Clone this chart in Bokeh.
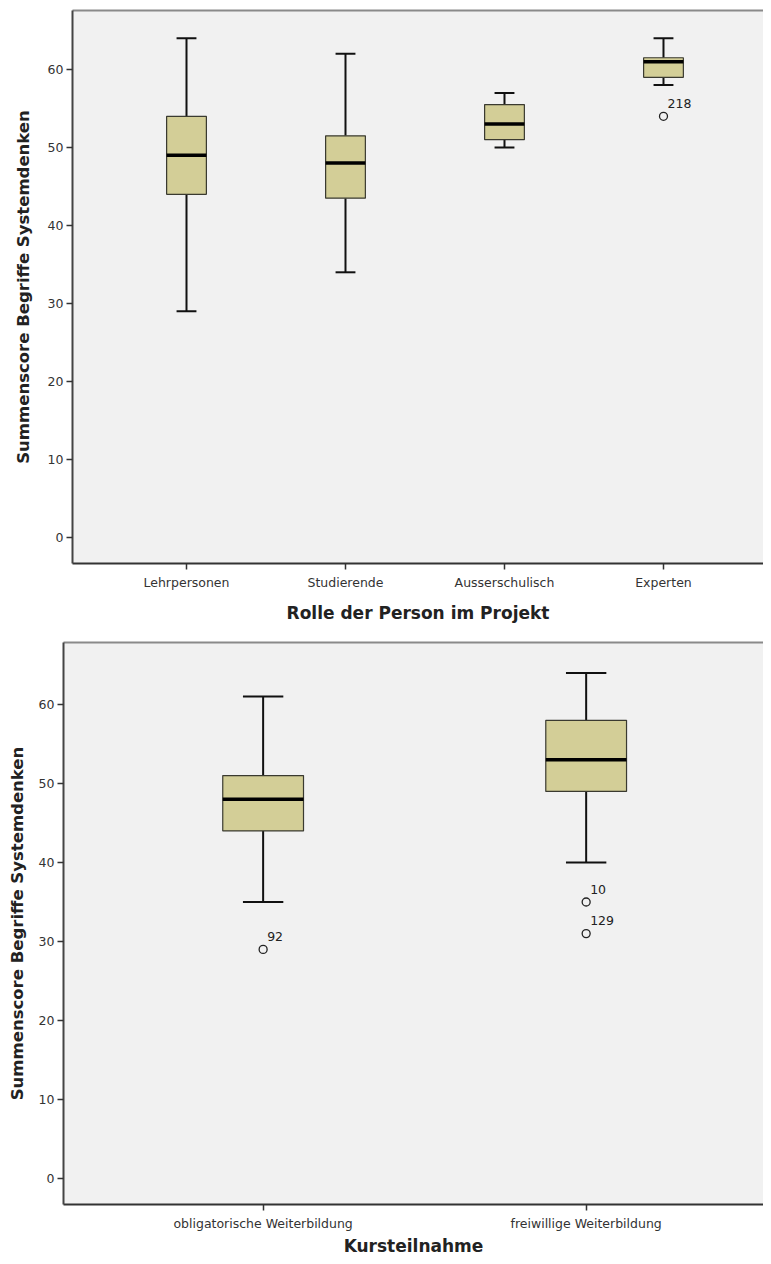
from bokeh.plotting import figure
from bokeh.models import Range1d, FixedTicker, LinearAxis
from bokeh.layouts import column
from bokeh.embed import file_html
from bokeh.resources import INLINE
from bokeh.core.properties import value

# ---- data: chart 1 (Rolle der Person im Projekt) ----
roles = ["Lehrpersonen", "Studierende", "Ausserschulisch", "Experten"]
role_low = [29, 34, 50, 58]
role_q1 = [44, 43.5, 51, 59]
role_median = [49, 48, 53, 61]
role_q3 = [54, 51.5, 55.5, 61.5]
role_high = [64, 62, 57, 64]
role_outlier_group = ["Experten"]
role_outlier_value = [54]
role_outlier_label = ["218"]

# ---- data: chart 2 (Kursteilnahme) ----
courses = ["obligatorische Weiterbildung", "freiwillige Weiterbildung"]
course_low = [35, 40]
course_q1 = [44, 49]
course_median = [48, 53]
course_q3 = [51, 58]
course_high = [61, 64]
course_outlier_group = ["obligatorische Weiterbildung", "freiwillige Weiterbildung", "freiwillige Weiterbildung"]
course_outlier_value = [29, 35, 31]
course_outlier_label = ["92", "10", "129"]

y_ticks = [0, 10, 20, 30, 40, 50, 60]
y_title = "Summenscore Begriffe Systemdenken"

FONT = "DejaVu Sans"
BOX_FILL = "#D3CE97"
BG = "#F1F1F1"


def make_box(cats, low, q1, med, q3, high, og, ov, ol, x_title, x_range, y_range,
             width, height, mbl, mbt, mbb, ystand, xstand):
    p = figure(width=width, height=height, output_backend="svg", toolbar_location=None,
               x_range=Range1d(*x_range), y_range=Range1d(*y_range),
               min_border_left=mbl, min_border_right=0, min_border_top=mbt,
               min_border_bottom=mbb)
    p.frame_align = False
    p.background_fill_color = BG
    p.border_fill_color = "white"
    p.outline_line_color = None
    p.grid.visible = False

    pos = [i + 1 for i in range(len(cats))]
    bw = 0.25
    cw = bw / 2

    # whiskers
    p.segment(x0=pos, y0=q3, x1=pos, y1=high, line_color="#111111", line_width=2)
    p.segment(x0=pos, y0=q1, x1=pos, y1=low, line_color="#111111", line_width=2)
    # caps
    p.segment(x0=[x - cw / 2 for x in pos], y0=high, x1=[x + cw / 2 for x in pos], y1=high,
              line_color="#111111", line_width=2)
    p.segment(x0=[x - cw / 2 for x in pos], y0=low, x1=[x + cw / 2 for x in pos], y1=low,
              line_color="#111111", line_width=2)
    # boxes
    p.vbar(x=pos, width=bw, top=q3, bottom=q1, fill_color=BOX_FILL,
           line_color="#3a3a30", line_width=1.2)
    # medians
    p.segment(x0=[x - bw / 2 for x in pos], y0=med, x1=[x + bw / 2 for x in pos], y1=med,
              line_color="#000000", line_width=3.5)

    # outliers
    ox = [cats.index(g) + 1 for g in og]
    p.scatter(x=ox, y=ov, marker="circle", size=8, fill_color=None,
              line_color="#222222", line_width=1.3)
    p.text(x=ox, y=ov, text=ol, x_offset=4, y_offset=-13, text_align="left",
           text_baseline="middle", text_font=value(FONT), text_font_size="12.5px",
           text_color="#222222")

    # x axis
    xa = p.xaxis[0]
    xa.ticker = FixedTicker(ticks=pos)
    xa.major_label_overrides = {x: c for x, c in zip(pos, cats)}
    xa.minor_tick_line_color = None
    xa.major_tick_in = 0
    xa.major_tick_out = 6
    xa.major_tick_line_color = "#333333"
    xa.major_tick_line_width = 1.5
    xa.axis_line_color = "#333333"
    xa.axis_line_width = 2
    xa.major_label_text_font = FONT
    xa.major_label_text_font_size = "12.5px"
    xa.major_label_text_color = "#333333"
    xa.major_label_standoff = 5
    xa.axis_label = x_title
    xa.axis_label_text_font = FONT
    xa.axis_label_text_font_style = "bold"
    xa.axis_label_text_font_size = "17px"
    xa.axis_label_text_color = "#222222"
    xa.axis_label_standoff = xstand

    # y axis
    ya = p.yaxis[0]
    ya.ticker = FixedTicker(ticks=y_ticks)
    ya.minor_tick_line_color = None
    ya.major_tick_in = 0
    ya.major_tick_out = 6
    ya.major_tick_line_color = "#333333"
    ya.major_tick_line_width = 1.5
    ya.axis_line_color = "#444444"
    ya.axis_line_width = 2
    ya.major_label_text_font = FONT
    ya.major_label_text_font_size = "12.5px"
    ya.major_label_text_color = "#333333"
    ya.major_label_standoff = 3
    ya.axis_label = y_title
    ya.axis_label_text_font = FONT
    ya.axis_label_text_font_style = "bold"
    ya.axis_label_text_font_size = "16.5px"
    ya.axis_label_text_color = "#222222"
    ya.axis_label_standoff = ystand

    # top border line
    top = LinearAxis(ticker=FixedTicker(ticks=[]), axis_line_color="#8a8a8a",
                     axis_line_width=2, major_tick_out=0, major_tick_in=0,
                     minor_tick_out=0, minor_tick_in=0,
                     major_label_text_font_size="0px", major_label_standoff=0)
    p.add_layout(top, "above")
    return p


# top: frame x 72..763, y 10..563
p1 = make_box(roles, role_low, role_q1, role_median, role_q3, role_high,
              role_outlier_group, role_outlier_value, role_outlier_label,
              "Rolle der Person im Projekt", (0.283, 4.629), (-3.33, 67.56),
              width=763, height=626, mbl=72, mbt=10, mbb=63, ystand=12, xstand=10)

# bottom: frame x 63..763, y 642..1204
p2 = make_box(courses, course_low, course_q1, course_median, course_q3, course_high,
              course_outlier_group, course_outlier_value, course_outlier_label,
              "Kursteilnahme", (0.382, 2.549), (-3.29, 67.85),
              width=763, height=632, mbl=63, mbt=16, mbb=54, ystand=9, xstand=2)

layout = column(p1, p2)
open("out.html", "w").write(file_html(layout, INLINE))
